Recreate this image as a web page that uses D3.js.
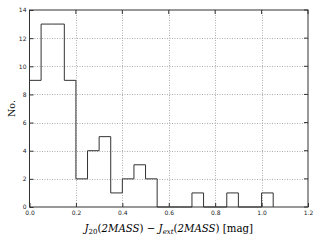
<!DOCTYPE html>
<html>
<head>
<meta charset="utf-8">
<script src="https://cdn.jsdelivr.net/npm/d3@7"></script>
<style>
  body { margin: 0; background: #fff; }
  svg { display: block; }
</style>
</head>
<body>
<div id="chart"></div>
<script>
// histogram bins (left edges, width 0.05) and counts
var binEdges = [0.00, 0.05, 0.10, 0.15, 0.20, 0.25, 0.30, 0.35, 0.40, 0.45, 0.50, 0.55, 0.60, 0.65, 0.70, 0.75, 0.80, 0.85, 0.90, 0.95, 1.00, 1.05];
var counts   = [9, 13, 13, 9, 2, 4, 5, 1, 2, 3, 2, 0, 0, 0, 1, 0, 0, 1, 0, 0, 1];
var xTicks = [0.0, 0.2, 0.4, 0.6, 0.8, 1.0, 1.2];
var yTicks = [0, 2, 4, 6, 8, 10, 12, 14];

var width = 320, height = 240;
var margin = {left: 29.5, top: 10, right: 12, bottom: 33};

var svg = d3.select("#chart").append("svg")
    .attr("width", width)
    .attr("height", height);

var x = d3.scaleLinear().domain([0, 1.2]).range([margin.left, width - margin.right]);
var y = d3.scaleLinear().domain([0, 14]).range([height - margin.bottom, margin.top]);

// grid
svg.append("g").selectAll("line.gx")
    .data(xTicks.slice(1, -1))
    .enter().append("line")
    .attr("x1", d => Math.round(x(d)) + 0.5).attr("x2", d => Math.round(x(d)) + 0.5)
    .attr("y1", y(14)).attr("y2", y(0))
    .attr("stroke", "#999").attr("stroke-width", 0.8)
    .attr("stroke-dasharray", "1,1.5");
svg.append("g").selectAll("line.gy")
    .data(yTicks.slice(1, -1))
    .enter().append("line")
    .attr("x1", x(0)).attr("x2", x(1.2))
    .attr("y1", d => Math.round(y(d)) + 0.5).attr("y2", d => Math.round(y(d)) + 0.5)
    .attr("stroke", "#999").attr("stroke-width", 0.8)
    .attr("stroke-dasharray", "1,1.5");

// step outline
var pts = [[binEdges[0], 0]];
counts.forEach(function (c, i) {
    pts.push([binEdges[i], c]);
    pts.push([binEdges[i + 1], c]);
});
pts.push([binEdges[binEdges.length - 1], 0]);
var line = d3.line().x(d => x(d[0])).y(d => y(d[1]));
svg.append("path")
    .attr("d", line(pts))
    .attr("fill", "none")
    .attr("stroke", "#333")
    .attr("stroke-width", 1);

// frame
svg.append("rect")
    .attr("x", x(0)).attr("y", y(14))
    .attr("width", x(1.2) - x(0)).attr("height", y(0) - y(14))
    .attr("fill", "none").attr("stroke", "#333").attr("stroke-width", 1);

// axes (ticks inward)
var xAxis = d3.axisBottom(x).tickValues(xTicks).tickFormat(d3.format(".1f")).tickSizeInner(-4).tickSizeOuter(0).tickPadding(4);
var yAxis = d3.axisLeft(y).tickValues(yTicks).tickFormat(d3.format("d")).tickSizeInner(-4).tickSizeOuter(0).tickPadding(3);
var gx = svg.append("g").attr("transform", "translate(0," + y(0) + ")").call(xAxis);
var gy = svg.append("g").attr("transform", "translate(" + x(0) + ",0)").call(yAxis);
[gx, gy].forEach(function (g) {
    g.select(".domain").remove();
    g.selectAll("line").attr("stroke", "#333");
    g.selectAll("text").attr("font-family", "DejaVu Sans").attr("font-size", 6).attr("fill", "#222");
});
// top / right ticks
svg.append("g").selectAll("line")
    .data(xTicks).enter().append("line")
    .attr("x1", d => x(d)).attr("x2", d => x(d))
    .attr("y1", y(14)).attr("y2", y(14) + 4).attr("stroke", "#333");
svg.append("g").selectAll("line")
    .data(yTicks).enter().append("line")
    .attr("x1", x(1.2)).attr("x2", x(1.2) - 4)
    .attr("y1", d => y(d)).attr("y2", d => y(d)).attr("stroke", "#333");

// labels
svg.append("text")
    .attr("transform", "translate(15," + ((y(0) + y(14)) / 2) + ") rotate(-90)")
    .attr("text-anchor", "middle")
    .attr("font-family", "DejaVu Serif").attr("font-size", 9.5)
    .text("No.");

var xl = svg.append("text")
    .attr("x", (x(0) + x(1.2)) / 2).attr("y", 232)
    .attr("text-anchor", "middle")
    .attr("font-family", "DejaVu Serif").attr("font-size", 10.2);
xl.append("tspan").attr("font-style", "italic").text("J");
xl.append("tspan").attr("font-size", 7).attr("dy", 2).text("20");
xl.append("tspan").attr("dy", -2).text("(");
xl.append("tspan").attr("font-style", "italic").text("2MASS");
xl.append("tspan").text(") \u2212 ");
xl.append("tspan").attr("font-style", "italic").text("J");
xl.append("tspan").attr("font-size", 7).attr("font-style", "italic").attr("dy", 2).text("ext");
xl.append("tspan").attr("dy", -2).text("(");
xl.append("tspan").attr("font-style", "italic").text("2MASS");
xl.append("tspan").text(") [mag]");
</script>
</body>
</html>
